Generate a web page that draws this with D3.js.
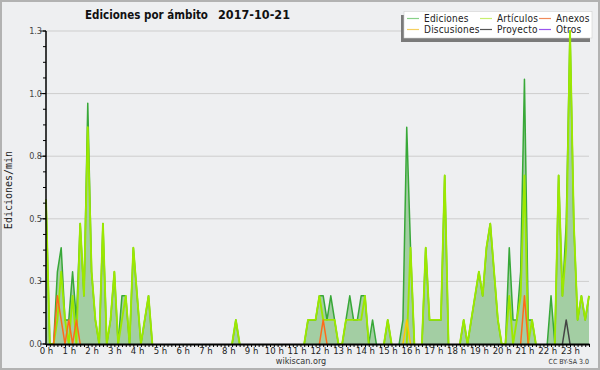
<!DOCTYPE html>
<html><head><meta charset="utf-8">
<script src="https://cdn.jsdelivr.net/npm/d3@7"></script>
<style>
html,body{margin:0;padding:0;background:#eeeff1;}
svg{display:block;}
text{font-family:"DejaVu Sans Condensed","DejaVu Sans",sans-serif;font-stretch:condensed;}
</style></head>
<body>
<svg id="c" width="600" height="370"></svg>
<script>
// ---- data: edits per minute, one value per 10 minutes (00:00 .. 23:50) ----
const hourLabels = ["0 h","1 h","2 h","3 h","4 h","5 h","6 h","7 h","8 h","9 h","10 h","11 h",
  "12 h","13 h","14 h","15 h","16 h","17 h","18 h","19 h","20 h","21 h","22 h","23 h"];
const yTickValues = [0, 0.26, 0.52, 0.78, 1.04, 1.3];
const seriesNames = ["Ediciones","Artículos","Anexos","Discusiones","Proyecto","Otros"];
const seriesColors = ["#38a838","#9ce800","#ff6a1a","#ffc800","#444444","#9944ee"];
const legendColors = ["#88d088","#c8ef70","#f08a5a","#f5cf60","#555555","#9a55ee"];

const ediciones = [
  0.6,0,0,0.3,0.4,0.1,  0.1,0.3,0.1,0.5,0.2,1.0,  0.3,0.1,0,0.5,0,0.1,  0.3,0,0.2,0.2,0,0.4,
  0.2,0,0.1,0.2,0,0,    0,0,0,0,0,0,              0,0,0,0,0,0,          0,0,0,0,0,0,
  0,0,0.1,0,0,0,        0,0,0,0,0,0,              0,0,0,0,0,0,          0,0,0,0.1,0.1,0.1,
  0.2,0.2,0.1,0.2,0.1,0, 0,0.1,0.2,0.1,0.1,0.2,   0.2,0,0.1,0,0,0,      0.1,0,0,0,0.1,0.9,
  0.4,0,0,0,0.4,0.1,    0.1,0.1,0.1,0.7,0,0,      0,0,0.1,0,0.1,0.2,    0.3,0.2,0.4,0.5,0.3,0.1,
  0,0,0.4,0.1,0.1,0.3,  1.1,0.1,0.1,0,0,0,        0,0.2,0,0.7,0.2,0.5,  1.3,0.5,0.1,0.2,0.1,0.2
];
const articulos = [
  0.6,0,0,0.1,0.3,0.1,  0,0.2,0,0.5,0.2,0.9,      0.3,0.1,0,0.5,0,0.1,  0.3,0,0.1,0.2,0,0.4,
  0.2,0,0.1,0.2,0,0,    0,0,0,0,0,0,              0,0,0,0,0,0,          0,0,0,0,0,0,
  0,0,0.1,0,0,0,        0,0,0,0,0,0,              0,0,0,0,0,0,          0,0,0,0.1,0.1,0.1,
  0.2,0.1,0.1,0.1,0.1,0, 0,0.1,0.1,0.1,0.1,0.1,   0.2,0,0,0,0,0,        0.1,0,0,0,0,0,
  0.4,0,0,0,0.4,0.1,    0.1,0.1,0.1,0.7,0,0,      0,0,0.1,0,0.1,0.2,    0.3,0.2,0.4,0.5,0.3,0.1,
  0,0,0.2,0,0.1,0.2,    0.7,0,0.1,0,0,0,          0,0,0,0.7,0.2,0.4,    1.3,0.5,0.1,0.2,0.1,0.2
];
const anexos = [
  0,0,0,0.2,0.1,0,  0.1,0,0.1,0,0,0,  0,0,0,0,0,0,  0,0,0,0,0,0,
  0,0,0,0,0,0,      0,0,0,0,0,0,      0,0,0,0,0,0,  0,0,0,0,0,0,
  0,0,0,0,0,0,      0,0,0,0,0,0,      0,0,0,0,0,0,  0,0,0,0,0,0,
  0,0.1,0,0,0,0,    0,0,0,0,0,0,      0,0,0,0,0,0,  0,0,0,0,0,0,
  0,0,0,0,0,0,      0,0,0,0,0,0,      0,0,0,0,0,0,  0,0,0,0,0,0,
  0,0,0,0,0,0,      0.2,0,0,0,0,0,    0,0,0,0,0,0,  0,0,0,0,0,0
];
const discusiones = [
  0,0,0,0,0,0,  0,0,0,0,0,0,  0,0,0,0,0,0,  0,0,0,0,0,0,
  0,0,0,0,0,0,  0,0,0,0,0,0,  0,0,0,0,0,0,  0,0,0,0,0,0,
  0,0,0,0,0,0,  0,0,0,0,0,0,  0,0,0,0,0,0,  0,0,0,0,0,0,
  0,0,0,0,0,0,  0,0,0,0,0,0,  0,0,0,0,0,0,  0,0,0,0,0,0.1,
  0,0,0,0,0,0,  0,0,0,0,0,0,  0,0,0,0,0,0,  0,0,0,0,0,0,
  0,0,0,0,0,0,  0,0,0,0,0,0,  0,0,0,0,0,0,  0,0,0,0,0,0
];
const proyecto = [
  0,0,0,0,0,0,  0,0,0,0,0,0,  0,0,0,0,0,0,  0,0,0,0,0,0,
  0,0,0,0,0,0,  0,0,0,0,0,0,  0,0,0,0,0,0,  0,0,0,0,0,0,
  0,0,0,0,0,0,  0,0,0,0,0,0,  0,0,0,0,0,0,  0,0,0,0,0,0,
  0,0,0,0,0,0,  0,0,0,0,0,0,  0,0,0,0,0,0,  0,0,0,0,0,0,
  0,0,0,0,0,0,  0,0,0,0,0,0,  0,0,0,0,0,0,  0,0,0,0,0,0,
  0,0,0,0,0,0,  0,0,0,0,0,0,  0,0,0,0,0,0.1,0,0,0,0,0,0
];
const otros = [
  0,0,0,0,0,0,  0,0,0,0,0,0,  0,0,0,0,0,0,  0,0,0,0,0,0,
  0,0,0,0,0,0,  0,0,0,0,0,0,  0,0,0,0,0,0,  0,0,0,0,0,0,
  0,0,0,0,0,0,  0,0,0,0,0,0,  0,0,0,0,0,0,  0,0,0,0,0,0,
  0,0,0,0,0,0,  0,0,0,0,0,0,  0,0,0,0,0,0,  0,0,0,0,0,0,
  0,0,0,0,0,0,  0,0,0,0,0,0,  0,0,0,0,0,0,  0,0,0,0,0,0,
  0,0,0,0,0,0,  0,0,0,0,0,0,  0,0,0,0,0,0,  0,0,0,0,0,0
];
const allSeries = [ediciones, articulos, anexos, discusiones, proyecto, otros];

// ---- layout ----
const W = 600, H = 370;
const L = 46, R = 589, T = 31, B = 344;
const svg = d3.select("#c");

svg.append("rect").attr("x",1).attr("y",1).attr("width",W-2).attr("height",H-2)
  .attr("fill","#eeeff1").attr("stroke","#b2b2b2").attr("stroke-width",2);

const x = d3.scaleLinear().domain([0, ediciones.length-1]).range([L, R]);
const y = d3.scaleLinear().domain([0, 1.3]).range([B, T]);

// grid
svg.append("g").selectAll("line").data(yTickValues.slice(1)).join("line")
  .attr("x1",L).attr("x2",R).attr("y1",d=>y(d)).attr("y2",d=>y(d))
  .attr("stroke","#cdcdcd").attr("stroke-width",1);

// title
svg.append("text").attr("x",85).attr("y",19).attr("font-size",13).attr("font-weight","bold")
  .attr("fill","#111").attr("textLength",123).attr("lengthAdjust","spacingAndGlyphs")
  .text("Ediciones por ámbito");
svg.append("text").attr("x",218).attr("y",19).attr("font-size",13).attr("font-weight","bold")
  .attr("fill","#111").attr("textLength",72).attr("lengthAdjust","spacingAndGlyphs")
  .text("2017-10-21");

// legend
const lg = svg.append("g");
lg.append("rect").attr("x",401).attr("y",15).attr("width",189).attr("height",27).attr("fill","#7a7a7a");
lg.append("rect").attr("x",404).attr("y",11.5).attr("width",188).attr("height",26.5)
  .attr("fill","#ffffff").attr("stroke","#d0d0d0").attr("stroke-width",0.6);
const legPos = [[407,18.5],[480,18.5],[539,18.5],[407,29.5],[480,29.5],[539,29.5]];
const legOrder = [0,1,2,3,4,5];
legOrder.forEach((k,j)=>{
  const [lx,ly] = legPos[j];
  lg.append("line").attr("x1",lx).attr("x2",lx+12).attr("y1",ly).attr("y2",ly)
    .attr("stroke",legendColors[k]).attr("stroke-width",1.2);
  lg.append("text").attr("x",lx+17).attr("y",ly+3.4).attr("font-size",10).attr("fill","#222")
    .attr("letter-spacing",0.2).text(seriesNames[k]);
});

// area + lines
const plot = svg.append("g");
const area = d3.area().x((d,i)=>x(i)).y0(y(0)).y1(d=>y(d));
plot.append("path").datum(ediciones).attr("d",area).attr("fill","#a3cea3");

function shown(arr){ return (d,i)=> d>0 || (i>0 && arr[i-1]>0) || (i<arr.length-1 && arr[i+1]>0); }
const drawOrder = [0,1,2,3,4,5];
drawOrder.forEach(k=>{
  const arr = allSeries[k];
  const line = d3.line().defined(shown(arr)).x((d,i)=>x(i)).y(d=>y(d));
  plot.append("path").datum(arr).attr("d",line).attr("fill","none")
    .attr("stroke",seriesColors[k]).attr("stroke-width",k===1?1.9:1.5)
    .attr("stroke-linejoin","round");
});

// y axis
const yMinor = d3.range(0, 21).map(i=>i*0.065);
const ya = svg.append("g");
ya.selectAll("line.mn").data(yMinor).join("line")
  .attr("x1",L-3).attr("x2",L).attr("y1",d=>y(d)).attr("y2",d=>y(d))
  .attr("stroke","#000").attr("stroke-width",1);
ya.selectAll("line.mj").data(yTickValues).join("line")
  .attr("x1",L-6).attr("x2",L).attr("y1",d=>y(d)).attr("y2",d=>y(d))
  .attr("stroke","#000").attr("stroke-width",1);
ya.selectAll("text").data(yTickValues).join("text")
  .attr("x",L-4).attr("y",d=>y(d)+3).attr("text-anchor","end").attr("font-size",9)
  .attr("fill","#444").text(d=>d3.format(".1f")(d));
ya.append("line").attr("x1",L).attr("x2",L).attr("y1",T).attr("y2",B+1)
  .attr("stroke","#000").attr("stroke-width",1.5);

// x axis
const xa = svg.append("g").attr("transform",`translate(0,${B})`)
  .call(d3.axisBottom(x).tickValues(d3.range(0,ediciones.length)).tickSize(3).tickSizeOuter(0)
    .tickFormat(i=> i%6===0 ? hourLabels[i/6] : ""));
xa.select(".domain").attr("stroke","#000").attr("stroke-width",2);
xa.selectAll(".tick line").attr("stroke","#000").attr("stroke-width",1);
xa.selectAll(".tick text").attr("font-size",9.5).attr("fill","#222").attr("dy","0.45em")
  .attr("font-family",'"DejaVu Sans Condensed","DejaVu Sans",sans-serif');

// axis title
svg.append("text").attr("transform","translate(12,190) rotate(-90)").attr("text-anchor","middle")
  .attr("font-size",10).attr("fill","#222").style("font-family","'DejaVu Sans Mono',monospace")
  .style("font-stretch","normal").text("Ediciones/min");

// footer
svg.append("text").attr("x",301).attr("y",364).attr("text-anchor","middle").attr("font-size",9)
  .attr("fill","#333").text("wikiscan.org");
svg.append("text").attr("x",589).attr("y",364).attr("text-anchor","end").attr("font-size",7)
  .attr("fill","#333").text("CC BY-SA 3.0");
</script>
</body></html>
